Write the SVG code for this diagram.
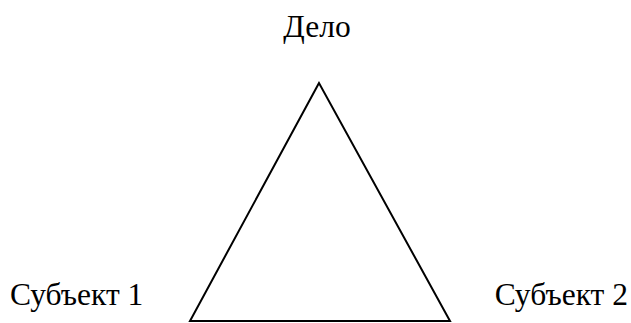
<svg xmlns="http://www.w3.org/2000/svg" width="631" height="323" viewBox="0 0 631 323">
<style>
text{font-family:'Liberation Serif','DejaVu Serif',serif;font-size:31.5px;fill:#000}
.edge{fill:none;stroke:#000;stroke-width:2}
</style>
<rect width="631" height="323" fill="#fff"/>
<g id="connectors">
<polygon class="edge" points="319,83 190,321 450,321"/>
</g>
<g id="node-delo"><text x="317" y="37" text-anchor="middle" font-family="Liberation Serif, serif">Дело</text></g>
<g id="node-subj1"><text x="10" y="305" font-family="Liberation Serif, serif">Субъект 1</text></g>
<g id="node-subj2"><text x="628" y="305" text-anchor="end" font-family="Liberation Serif, serif">Субъект 2</text></g>
</svg>
